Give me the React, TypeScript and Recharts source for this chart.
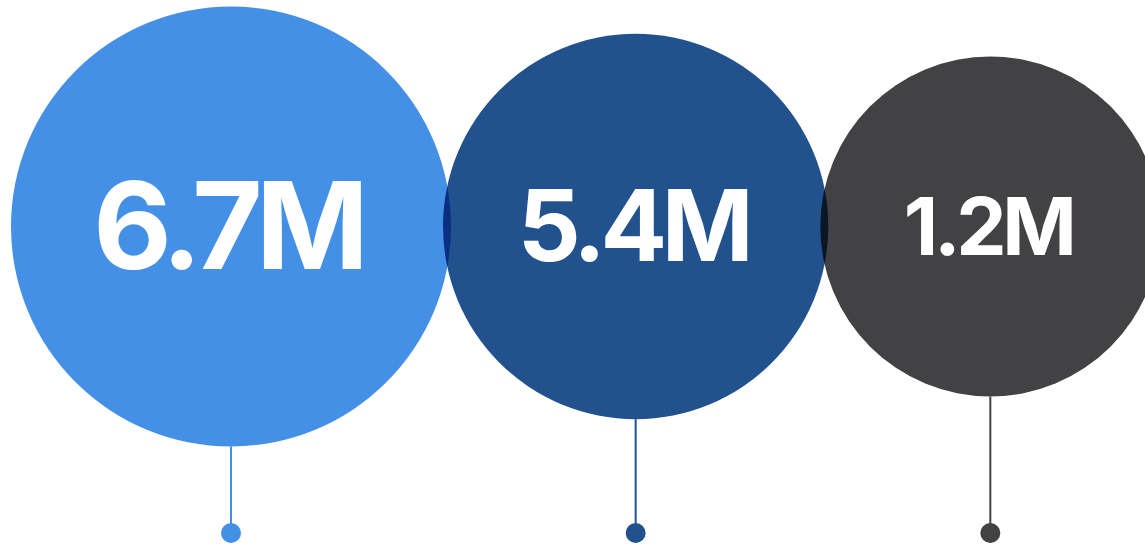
import React from "react";
import { ScatterChart, Scatter, XAxis, YAxis, ZAxis } from "recharts";

const labels = ["6.7M", "5.4M", "1.2M"];
const values = [6.7, 5.4, 1.2];
const colors = ["#4390E6", "#22528E", "#424244"];

const WIDTH = 1145;
const HEIGHT = 544;
const CENTER_Y = 226.5;
const PIN_Y = 533;
const LEFT_EDGE = 11;
const OVERLAP = 8;
const R_MIN = 170;
const R_MAX = 220;

// bubble area grows steeply with the value, so 5.4M stays close to 1.2M in size
const weights = values.map((v) => v ** 4);
const W_MIN = Math.min(...weights);
const W_MAX = Math.max(...weights);
const AREA: [number, number] = [Math.PI * R_MIN ** 2, Math.PI * R_MAX ** 2];

const radiusOf = (w: number) =>
  Math.sqrt((AREA[0] + ((w - W_MIN) / (W_MAX - W_MIN)) * (AREA[1] - AREA[0])) / Math.PI);

// bubbles sit side by side, each one just overlapping the previous
const data = (() => {
  let x = 0;
  let prevR = 0;
  return labels.map((label, i) => {
    const r = radiusOf(weights[i]);
    x = i === 0 ? LEFT_EDGE + r : x + prevR + r - OVERLAP;
    prevR = r;
    return { label, value: values[i], weight: weights[i], color: colors[i], x, y: CENTER_Y };
  });
})();

const Bubble = (props: any) => {
  const { cx, cy, width, payload } = props;
  const r = width / 2;
  const fs = 80 + (r - R_MIN) * 0.82;
  const ls = -fs * 0.055;
  return (
    <g>
      <circle cx={cx} cy={cy} r={r} fill={payload.color} style={{ mixBlendMode: "multiply" }} />
      <line x1={cx} x2={cx} y1={cy + r} y2={PIN_Y} stroke={payload.color} strokeWidth={2} />
      <circle cx={cx} cy={PIN_Y} r={10} fill={payload.color} />
      <text
        x={cx + ls / 2}
        y={cy + fs * 0.35}
        textAnchor="middle"
        fill="#ffffff"
        fontSize={fs}
        fontWeight={700}
        fontFamily="Inter, 'Open Sans', sans-serif"
        letterSpacing={ls}
      >
        {payload.label}
      </text>
    </g>
  );
};

export default function App() {
  return (
    <div style={{ width: WIDTH, height: HEIGHT, background: "#ffffff" }}>
      <style>{"body{margin:0}"}</style>
      <ScatterChart width={WIDTH} height={HEIGHT} margin={{ top: 0, right: 0, bottom: 0, left: 0 }}>
        <XAxis type="number" dataKey="x" domain={[0, WIDTH]} hide />
        <YAxis type="number" dataKey="y" domain={[0, HEIGHT]} reversed hide />
        <ZAxis type="number" dataKey="weight" domain={[W_MIN, W_MAX]} range={AREA} />
        <Scatter data={data} shape={<Bubble />} isAnimationActive={false} />
      </ScatterChart>
    </div>
  );
}
